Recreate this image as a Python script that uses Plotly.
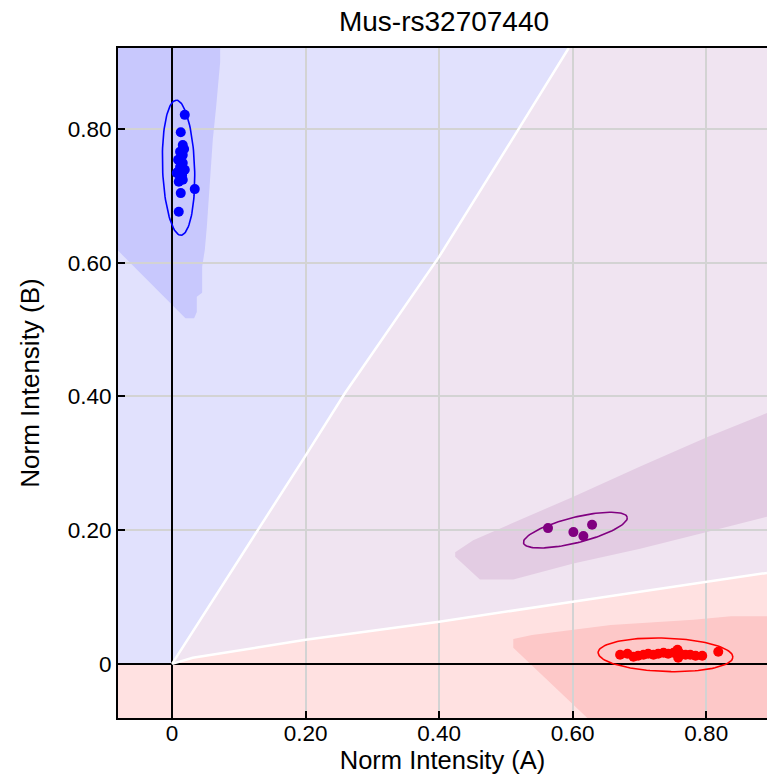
import numpy as np
import plotly.graph_objects as go

# ---------------- data ----------------
title_text = "Mus-rs32707440"

# cluster points
blue_x = [0.019, 0.013, 0.016, 0.012, 0.016, 0.009, 0.016, 0.012, 0.019, 0.009,
          0.015, 0.007, 0.012, 0.016, 0.010, 0.034, 0.013, 0.010, 0.014, 0.018]
blue_y = [0.821, 0.795, 0.776, 0.766, 0.761, 0.754, 0.749, 0.743, 0.739, 0.736,
          0.731, 0.734, 0.728, 0.724, 0.721, 0.710, 0.704, 0.676, 0.758, 0.770]

purple_x = [0.563, 0.601, 0.616, 0.629]
purple_y = [0.203, 0.197, 0.191, 0.208]

red_x = [0.671, 0.682, 0.691, 0.698, 0.706, 0.713, 0.721, 0.728, 0.736, 0.743,
         0.751, 0.757, 0.758, 0.761, 0.769, 0.776, 0.784, 0.794, 0.818]
red_y = [0.0135, 0.015, 0.0105, 0.012, 0.0135, 0.015, 0.0135, 0.015, 0.0165, 0.015,
         0.0165, 0.021, 0.009, 0.015, 0.0135, 0.0135, 0.012, 0.012, 0.018]

# cluster ellipses: centre x, centre y, semi-axis a, semi-axis b, angle (deg)
blue_ell = [0.0097, 0.742, 0.101, 0.024, 92.0]
purple_ell = [0.604, 0.200, 0.080, 0.019, 14.0]
red_ell = [0.739, 0.0135, 0.101, 0.025, -2.0]

# classification boundaries
upper_bx = [0.0, 0.132, 0.199, 0.259, 0.400, 0.521, 0.594]
upper_by = [0.0, 0.205, 0.310, 0.405, 0.609, 0.803, 0.921]
lower_bx = [0.0, 0.031, 0.200, 0.400, 0.600, 0.800, 0.891]
lower_by = [0.0, 0.009, 0.036, 0.063, 0.093, 0.122, 0.136]

# dense (darker) zones
blue_zone_x = [-0.1, 0.072, 0.072, 0.066, 0.061, 0.052, 0.049, 0.045, 0.045, 0.037, 0.037, 0.033, 0.020, -0.1]
blue_zone_y = [0.95, 0.95, 0.90, 0.833, 0.784, 0.653, 0.619, 0.594, 0.555, 0.549, 0.526, 0.517, 0.517, 0.637]
purple_zone_x = [0.424, 0.451, 0.601, 0.701, 0.801, 0.95, 0.95, 0.891, 0.801, 0.701, 0.601, 0.511, 0.461, 0.424]
purple_zone_y = [0.167, 0.185, 0.250, 0.295, 0.339, 0.399, 0.235, 0.220, 0.197, 0.172, 0.150, 0.126, 0.126, 0.160]
red_zone_x = [0.511, 0.539, 0.601, 0.657, 0.781, 0.837, 0.95, 0.95, 0.642, 0.511]
red_zone_y = [0.037, 0.043, 0.051, 0.058, 0.066, 0.071, 0.071, -0.1, -0.1, 0.024]

tick_vals = [0.0, 0.2, 0.4, 0.6, 0.8]
tick_text = ["0", "0.20", "0.40", "0.60", "0.80"]
x_range = [-0.081, 0.891]
y_range = [-0.081, 0.921]

# ---------------- colours ----------------
C_BLUE_L = "rgb(225,225,253)"
C_BLUE_D = "rgb(200,200,253)"
C_PUR_L = "rgb(240,228,241)"
C_PUR_D = "rgb(227,204,227)"
C_RED_L = "rgb(255,225,225)"
C_RED_D = "rgb(253,200,200)"

FONT = "Liberation Sans, Arial, sans-serif"

W, H = 767, 774
ML, MR, MT, MB = 118, 0, 48, 56


def poly_path(xs, ys):
    pts = [f"{x},{y}" for x, y in zip(xs, ys)]
    return "M " + " L ".join(pts) + " Z"


def ellipse(params, n=120):
    cx, cy, a, b, ang = params
    t = np.linspace(0, 2 * np.pi, n)
    th = np.deg2rad(ang)
    ex = cx + a * np.cos(t) * np.cos(th) - b * np.sin(t) * np.sin(th)
    ey = cy + a * np.cos(t) * np.sin(th) + b * np.sin(t) * np.cos(th)
    return ex, ey


# background regions derived from boundaries
blue_reg_x = [-0.2, 0.0] + upper_bx[1:] + [upper_bx[-1], -0.2]
blue_reg_y = [0.0, 0.0] + upper_by[1:] + [1.1, 1.1]
red_reg_x = [-0.2] + lower_bx + [1.1, 1.1, -0.2]
red_reg_y = [0.0] + lower_by + [lower_by[-1], -0.2, -0.2]

shapes = []
for xs, ys, col in [
    (blue_reg_x, blue_reg_y, C_BLUE_L),
    (red_reg_x, red_reg_y, C_RED_L),
    (blue_zone_x, blue_zone_y, C_BLUE_D),
    (purple_zone_x, purple_zone_y, C_PUR_D),
    (red_zone_x, red_zone_y, C_RED_D),
]:
    shapes.append(dict(type="path", path=poly_path(xs, ys), xref="x", yref="y",
                       fillcolor=col, line=dict(width=0), layer="below"))

fig = go.Figure()

# white boundary lines
fig.add_trace(go.Scatter(x=upper_bx, y=upper_by, mode="lines",
                         line=dict(color="white", width=2.5), hoverinfo="skip", showlegend=False))
fig.add_trace(go.Scatter(x=lower_bx, y=lower_by, mode="lines",
                         line=dict(color="white", width=2.5), hoverinfo="skip", showlegend=False))

# ellipses and points
for params, px, py, col in [
    (blue_ell, blue_x, blue_y, "blue"),
    (purple_ell, purple_x, purple_y, "purple"),
    (red_ell, red_x, red_y, "red"),
]:
    ex, ey = ellipse(params)
    fig.add_trace(go.Scatter(x=ex, y=ey, mode="lines", line=dict(color=col, width=1.6),
                             hoverinfo="skip", showlegend=False))
    fig.add_trace(go.Scatter(x=px, y=py, mode="markers",
                             marker=dict(color=col, size=10, line=dict(width=0)),
                             showlegend=False))

axis_common = dict(
    tickvals=tick_vals, ticktext=tick_text,
    ticks="inside", ticklen=7, tickwidth=2, tickcolor="black",
    showline=True, linecolor="black", linewidth=2, mirror=True,
    showgrid=True, gridcolor="#d3d3d3", gridwidth=2,
    zeroline=True, zerolinecolor="black", zerolinewidth=2,
    tickfont=dict(family=FONT, size=22.5, color="black"),
    automargin=False,
)

fig.update_layout(
    width=W, height=H,
    margin=dict(l=ML, r=MR, t=MT, b=MB),
    paper_bgcolor="white", plot_bgcolor=C_PUR_L,
    shapes=shapes,
    title=dict(text=title_text, x=444 / W, xanchor="center",
               y=1 - 21 / H, yanchor="middle",
               font=dict(family=FONT, size=28, color="black")),
    xaxis=dict(range=x_range, ticklabelstandoff=-6,
               title=dict(text="Norm Intensity (A)", standoff=5,
                          font=dict(family=FONT, size=25.5, color="black")),
               **axis_common),
    yaxis=dict(range=y_range,
               title=dict(text="Norm Intensity (B)", standoff=21,
                          font=dict(family=FONT, size=26, color="black")),
               **axis_common),
    showlegend=False,
)

fig.write_html("out.html", config={"displayModeBar": False},
               post_script="document.body.style.margin='0px';")
